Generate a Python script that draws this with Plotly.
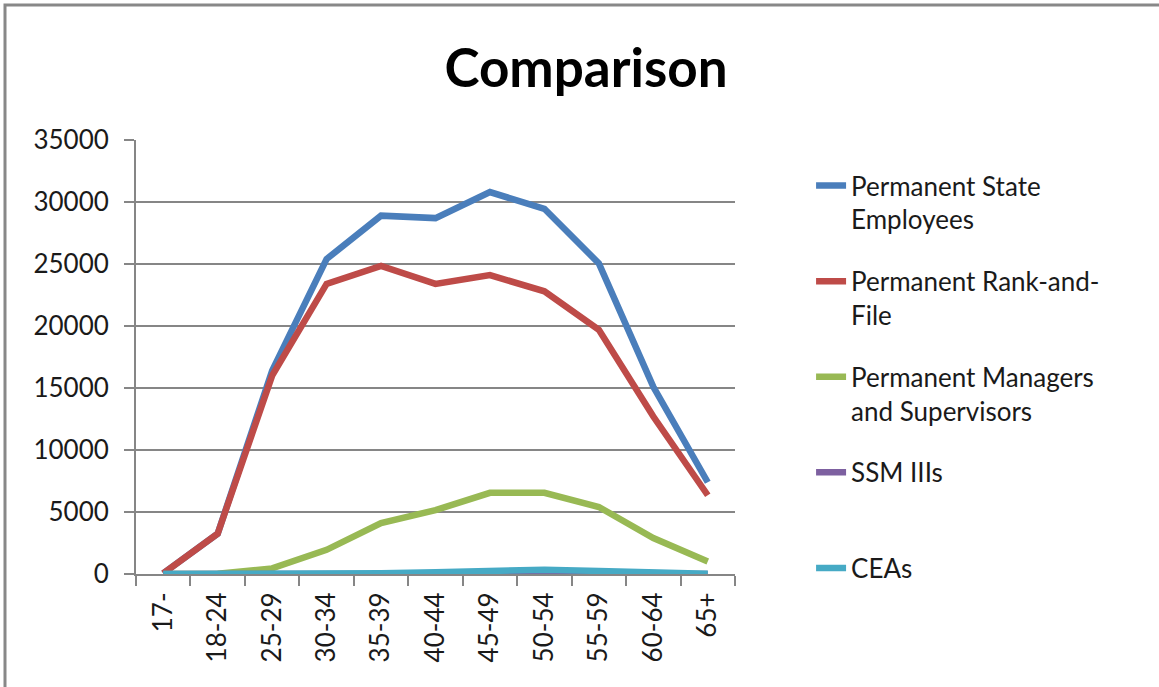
import plotly.graph_objects as go

age_groups = ["17-", "18-24", "25-29", "30-34", "35-39", "40-44", "45-49", "50-54", "55-59", "60-64", "65+"]

state_employees = [60, 3250, 16400, 25400, 28900, 28700, 30800, 29450, 25050, 15100, 7400]
rank_and_file = [50, 3250, 16000, 23400, 24850, 23400, 24100, 22800, 19700, 12700, 6350]
managers_supervisors = [5, 30, 450, 1950, 4100, 5150, 6550, 6550, 5400, 2900, 1000]
ssm_iiis = [0, 0, 0, 5, 15, 40, 70, 90, 60, 25, 5]
ceas = [0, 0, 5, 25, 60, 150, 260, 340, 250, 120, 30]

series_names = [
    "Permanent State<br>Employees",
    "Permanent Rank-and-<br>File",
    "Permanent Managers<br>and Supervisors",
    "SSM IIIs<br>&nbsp;",
    "CEAs",
]
series_values = [state_employees, rank_and_file, managers_supervisors, ssm_iiis, ceas]
series_colors = ["#4A7EBB", "#BE4B48", "#98B954", "#7D60A0", "#46AAC5"]

FONT = "Lato, 'Open Sans', sans-serif"

fig = go.Figure()
for i, (name, vals, col) in enumerate(zip(series_names, series_values, series_colors)):
    fig.add_trace(go.Scatter(
        x=age_groups, y=vals, name=name, mode="lines",
        line=dict(color=col, width=6.5), legendgroup=f"g{i}",
    ))

fig.update_layout(
    width=1159, height=687,
    paper_bgcolor="white", plot_bgcolor="white",
    margin=dict(l=136, r=424, t=140, b=113),
    font=dict(family=FONT, size=26, color="#1a1a1a"),
    title=dict(text="<b>Comparison</b>", x=0.5056, xref="container", xanchor="center",
               y=0.90, yref="container", yanchor="middle",
               font=dict(family=FONT, size=53, color="black")),
    showlegend=True,
    legend=dict(x=1.127, xanchor="left", y=0.949, yanchor="top",
                valign="top", tracegroupgap=25, maxheight=600,
                font=dict(family=FONT, size=26, color="#1a1a1a"),
                bgcolor="rgba(0,0,0,0)"),
    xaxis=dict(type="category", range=[-0.5, len(age_groups) - 0.5],
               tickangle=-90, showgrid=False,
               showline=True, linecolor="#868686", linewidth=2,
               ticks="outside", tickson="boundaries", ticklen=10,
               tickcolor="#868686", tickwidth=2, ticklabelstandoff=6,
               tickfont=dict(family=FONT, size=26, color="#1a1a1a")),
    yaxis=dict(range=[0, 35000], dtick=5000, tickformat="d",
               showgrid=True, gridcolor="#868686", gridwidth=2,
               showline=True, linecolor="#868686", linewidth=2,
               ticks="outside", ticklen=10, tickcolor="#868686", tickwidth=2,
               zeroline=False, ticklabelstandoff=10,
               tickfont=dict(family=FONT, size=26, color="#1a1a1a")),
    shapes=[dict(type="rect", xref="paper", yref="paper",
                 x0=(5 - 136) / 599, x1=(1200 - 136) / 599,
                 y0=(574 - 720) / 434, y1=(574 - 5) / 434,
                 line=dict(color="#888888", width=3), fillcolor="rgba(0,0,0,0)",
                 layer="below")],
)

fig.write_html("out.html", config={"displayModeBar": False},
               post_script="document.body.style.margin='0';document.body.style.padding='0';")
